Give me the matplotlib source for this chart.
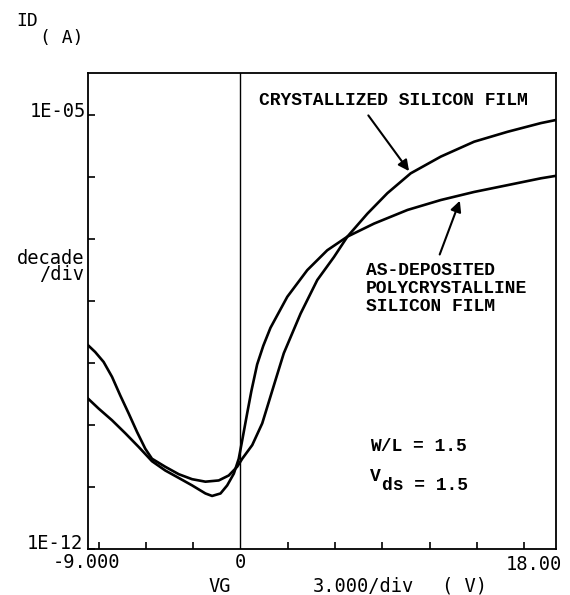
import matplotlib
matplotlib.use("Agg")
import matplotlib.pyplot as plt
import numpy as np

# gate voltage (V) and log10 of drain current (A)
vg_crys = [-8.7, -8.29, -7.81, -7.33, -6.86, -6.38, -5.90, -5.43, -5.05, -4.29,
           -3.52, -2.76, -2.0, -1.24, -0.67, -0.19, 0.10, 0.67, 1.24, 1.62,
           2.0, 2.47, 3.43, 4.38, 5.33, 6.10, 7.24, 8.38, 9.71, 11.43,
           13.33, 15.24, 17.14, 18.0]
logid_crys = [-8.71, -8.82, -8.98, -9.22, -9.52, -9.81, -10.11, -10.38, -10.54, -10.67,
              -10.79, -10.87, -10.91, -10.89, -10.81, -10.67, -10.54, -10.32, -9.97, -9.62,
              -9.27, -8.84, -8.20, -7.66, -7.29, -6.96, -6.59, -6.26, -5.94, -5.67,
              -5.43, -5.27, -5.13, -5.08]

vg_asdep = [-8.7, -8.10, -7.33, -6.57, -5.81, -5.05, -4.29, -3.52, -2.76, -2.0,
            -1.62, -1.14, -0.76, -0.38, -0.10, 0.10, 0.38, 0.62, 0.95, 1.30,
            1.71, 2.67, 3.81, 4.95, 6.10, 7.62, 9.53, 11.43, 13.33, 15.24,
            17.14, 18.0]
logid_asdep = [-9.57, -9.73, -9.92, -10.13, -10.35, -10.58, -10.73, -10.85, -10.97, -11.10,
               -11.14, -11.10, -10.97, -10.78, -10.54, -10.24, -9.81, -9.45, -9.02, -8.72,
               -8.43, -7.93, -7.50, -7.18, -6.96, -6.75, -6.53, -6.37, -6.24, -6.13,
               -6.02, -5.98]

xticks = [-8.1, -5.4, -2.7, 2.7, 5.4, 8.1, 10.8, 13.5, 16.2]
yticks = [1e-12, 1e-11, 1e-10, 1e-9, 1e-8, 1e-7, 1e-6, 1e-5]

id_crys = 10 ** np.array(logid_crys)
id_asdep = 10 ** np.array(logid_asdep)

mono = "DejaVu Sans Mono"
typew = "Liberation Mono"

fig = plt.figure(figsize=(5.7, 5.95), dpi=100)
ax = fig.add_axes([0.1544, 0.0768, 0.821, 0.801])

ax.plot(vg_crys, id_crys, color="black", lw=1.9, solid_joinstyle="round")
ax.plot(vg_asdep, id_asdep, color="black", lw=1.9, solid_joinstyle="round")
ax.axvline(0, color="black", lw=1.0)

ax.set_yscale("log")
ax.set_xlim(-8.7, 18.0)
ax.set_ylim(1e-12, 10 ** -4.318)
ax.set_xticks(xticks)
ax.set_xticklabels([])
ax.set_yticks(yticks)
ax.set_yticklabels([])
ax.minorticks_off()
ax.tick_params(direction="in", length=5, width=1.2)
ax.tick_params(top=False, right=False)
for s in ax.spines.values():
    s.set_linewidth(1.3)

# annotations inside the plot
ax.text(0.365, 0.941, "CRYSTALLIZED SILICON FILM", transform=ax.transAxes,
        family=typew, weight="bold", fontsize=13, va="center", ha="left")
ax.text(0.594, 0.603, "AS-DEPOSITED\nPOLYCRYSTALLINE\nSILICON FILM", transform=ax.transAxes,
        family=typew, weight="bold", fontsize=13, va="top", ha="left", linespacing=1.08)
ax.annotate("", xy=(9.71, 10 ** -5.94), xytext=(7.2, 10 ** -4.97),
            arrowprops=dict(arrowstyle="-|>", color="black", lw=1.5, mutation_scale=16))
ax.annotate("", xy=(12.57, 10 ** -6.34), xytext=(11.31, 10 ** -7.29),
            arrowprops=dict(arrowstyle="-|>", color="black", lw=1.5, mutation_scale=16))
ax.text(0.603, 0.215, "W/L = 1.5", transform=ax.transAxes,
        family=typew, weight="bold", fontsize=13, va="center", ha="left")
ax.text(0.603, 0.152, "V", transform=ax.transAxes,
        family=typew, weight="bold", fontsize=13, va="center", ha="left")
ax.text(0.629, 0.134, "ds = 1.5", transform=ax.transAxes,
        family=typew, weight="bold", fontsize=13, va="center", ha="left")

# labels around the frame
fig.text(27 / 570, 1 - 21 / 595, "ID", family=mono, fontsize=13, ha="center", va="center")
fig.text(62 / 570, 1 - 38 / 595, "( A)", family=mono, fontsize=13, ha="center", va="center")
fig.text(86 / 570, 1 - 117 / 595, "1E-05", family=mono, fontsize=13.5, ha="right", va="baseline")
fig.text(83 / 570, 1 - 549 / 595, "1E-12", family=mono, fontsize=13.5, ha="right", va="baseline")
fig.text(84 / 570, 1 - 266 / 595, "decade\n/div", family=mono, fontsize=13.5, ha="right",
         va="center", multialignment="right", linespacing=0.8)
fig.text(86 / 570, 1 - 563 / 595, "-9.000", family=mono, fontsize=13.5, ha="center", va="center")
fig.text(240 / 570, 1 - 563 / 595, "0", family=mono, fontsize=13.5, ha="center", va="center")
fig.text(534 / 570, 1 - 565 / 595, "18.00", family=mono, fontsize=13.5, ha="center", va="center")
fig.text(220 / 570, 1 - 586 / 595, "VG", family=mono, fontsize=13.5, ha="center", va="center")
fig.text(363 / 570, 1 - 586 / 595, "3.000/div", family=mono, fontsize=13.5, ha="center", va="center")
fig.text(465 / 570, 1 - 586 / 595, "( V)", family=mono, fontsize=13.5, ha="center", va="center")

fig.savefig("out.png", dpi=100, facecolor="white")
